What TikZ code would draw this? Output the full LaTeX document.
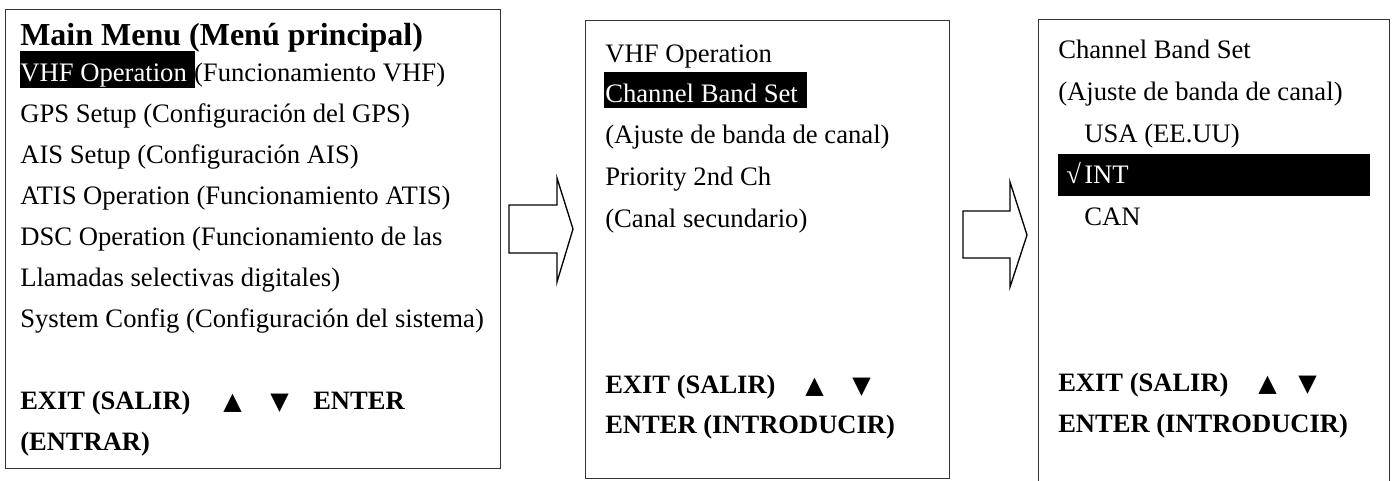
\documentclass[tikz,border=0pt]{standalone}
\usepackage{fontspec}
\setmainfont{Liberation Serif}
\newfontfamily\symfont{DejaVu Sans}
\begin{document}
\begin{tikzpicture}[x=0.75pt,y=-0.75pt,
  panel/.style={draw=black!80, line width=1.1pt, anchor=north west, inner sep=0pt},
  txt/.style={anchor=base west, inner sep=0pt, font=\fontsize{20}{24}\selectfont},
  wtxt/.style={txt, text=white},
  btxt/.style={anchor=base west, inner sep=0pt, font=\fontsize{19.9}{24}\selectfont\bfseries},
  ttl/.style={anchor=base west, inner sep=0pt, font=\fontsize{24}{28}\selectfont\bfseries},
  hl/.style={fill=black, anchor=north west, inner sep=0pt, draw=none},
  tri/.style={anchor=base west, inner sep=0pt, font=\symfont\fontsize{18}{20}\selectfont},
  bigarrow/.style={draw=black, line width=1pt, fill=white, line join=miter}
]
\useasboundingbox (0,0) rectangle (1394,480);
\clip (0,0) rectangle (1394,480);

% panels
\node[panel, minimum width=371.25pt, minimum height=344.25pt] (p1) at (5,9) {};
\node[panel, minimum width=273pt, minimum height=343.5pt] (p2) at (585,20) {};
\node[panel, minimum width=263.25pt, minimum height=352.5pt] (p3) at (1038,19) {};

% block arrows
\draw[bigarrow] (509,205) -- (557,205) -- (557,178) -- (573,229) -- (557,282) -- (557,253) -- (509,253) -- cycle;
\draw[bigarrow] (963,211) -- (1010,211) -- (1010,182) -- (1027,235) -- (1010,287) -- (1010,258) -- (963,258) -- cycle;

% panel 1
\node[ttl] (t1) at (20,45) {Main Menu (Menú principal)};
\node[hl, minimum width=131.25pt, minimum height=27.75pt] (hl1) at (20,51) {};
\node[wtxt] (a1) at (20,81) {VHF Operation};
\node[txt] (a1b) at (a1.base east) {\ (Funcionamiento VHF)};
\node[txt] (a2) at (20,122) {GPS Setup (Configuración del GPS)};
\node[txt] (a3) at (20,163) {AIS Setup (Configuración AIS)};
\node[txt] (a4) at (20,204) {ATIS Operation (Funcionamiento ATIS)};
\node[txt] (a5) at (20,245) {DSC Operation (Funcionamiento de las};
\node[txt] (a6) at (20,286) {Llamadas selectivas digitales)};
\node[txt] (a7) at (20,327) {System Config (Configuración del sistema)};
\node[btxt] (e1) at (20,409) {EXIT (SALIR)};
\node[tri] (u1) at (223,409) {▲};
\node[tri] (d1) at (270,409) {▼};
\node[btxt] (n1) at (313,409) {ENTER};
\node[btxt] (n1b) at (20,450) {(ENTRAR)};

% panel 2
\node[txt] (b1) at (605,62) {VHF Operation};
\node[hl, minimum width=152.25pt, minimum height=27pt] (hl2) at (604,72) {};
\node[wtxt] (b2) at (605,102) {Channel Band Set};
\node[txt] (b3) at (605,143) {(Ajuste de banda de canal)};
\node[txt] (b4) at (605,185) {Priority 2nd Ch};
\node[txt] (b5) at (605,227) {(Canal secundario)};
\node[btxt] (e2) at (605,393) {EXIT (SALIR)};
\node[tri] (u2) at (805,393) {▲};
\node[tri] (d2) at (852,393) {▼};
\node[btxt] (n2) at (605,433) {ENTER (INTRODUCIR)};

% panel 3
\node[txt] (c1) at (1058,58) {Channel Band Set};
\node[txt] (c2) at (1058,100) {(Ajuste de banda de canal)};
\node[txt] (c3) at (1084,142) {USA (EE.UU)};
\node[hl, minimum width=234pt, minimum height=31.5pt] (hl3) at (1058,154) {};
\node[wtxt] (ck) at (1066,183) {√};
\node[wtxt] (c4) at (1084,183) {INT};
\node[txt] (c5) at (1084,225) {CAN};
\node[btxt] (e3) at (1058,391) {EXIT (SALIR)};
\node[tri] (u3) at (1258,391) {▲};
\node[tri] (d3) at (1298,391) {▼};
\node[btxt] (n3) at (1058,432) {ENTER (INTRODUCIR)};
\end{tikzpicture}
\end{document}
